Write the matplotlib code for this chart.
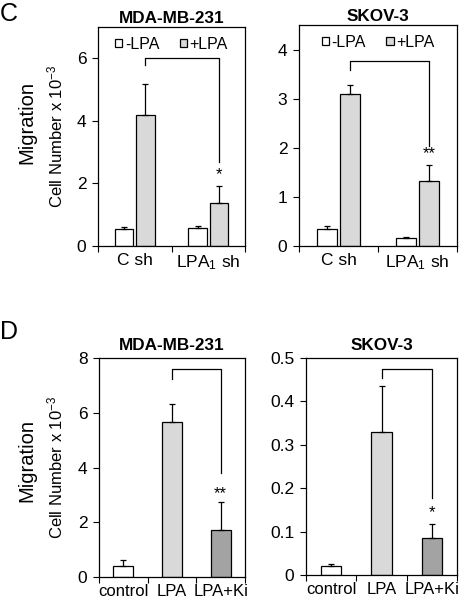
import matplotlib
matplotlib.use("Agg")
from matplotlib import pyplot as plt
from matplotlib.patches import Patch

plt.rcParams['font.family'] = ['Liberation Sans', 'DejaVu Sans']
plt.rcParams['mathtext.fontset'] = 'custom'
plt.rcParams['mathtext.rm'] = 'Liberation Sans'
plt.rcParams['mathtext.it'] = 'Liberation Sans:italic'

# panel C data
c_groups = ["C sh", "LPA$_\\mathregular{1}$ sh"]
c_mda_minus = [0.55, 0.57]
c_mda_minus_err = [0.05, 0.07]
c_mda_plus = [4.2, 1.38]
c_mda_plus_err = [0.97, 0.55]
c_skov_minus = [0.34, 0.156]
c_skov_minus_err = [0.07, 0.025]
c_skov_plus = [3.095, 1.33]
c_skov_plus_err = [0.175, 0.32]

# panel D data
d_groups = ["control", "LPA", "LPA+Ki"]
d_mda = [0.40, 5.65, 1.71]
d_mda_err = [0.21, 0.67, 1.04]
d_skov = [0.0215, 0.330, 0.086]
d_skov_err = [0.0035, 0.106, 0.0315]

# significance brackets: (top, left arm end, right arm end, star y, star text)
c_mda_sig = (6.0, 5.8, 2.7, 2.28, "*")
c_skov_sig = (3.76, 3.59, 2.03, 1.88, "**")
d_mda_sig = (7.6, 7.24, 3.79, 3.05, "**")
d_skov_sig = (0.475, 0.454, 0.177, 0.143, "*")

white = "#ffffff"
light = "#d9d9d9"
dark = "#a3a3a3"

TICK_FS = 12.5
W, H = 465, 600
fig = plt.figure(figsize=(W / 100, H / 100), dpi=100)


def make_axes(x0, y0, x1, y1):
    return fig.add_axes([x0 / W, 1 - y1 / H, (x1 - x0) / W, (y1 - y0) / H])


def style(ax, n, labels, ymax, yticks, yfmt, xfs=TICK_FS):
    ax.set_xlim(0, n)
    ax.set_ylim(0, ymax)
    ax.set_xticks(range(n + 1))
    ax.set_xticklabels([])
    ax.set_xticks([i + 0.5 for i in range(n)], minor=True)
    ax.set_xticklabels(labels, minor=True, fontsize=xfs)
    ax.tick_params(axis='x', which='minor', length=0, pad=5)
    ax.tick_params(axis='x', which='major', direction='out', length=4, width=0.8)
    ax.set_yticks(yticks)
    ax.set_yticklabels([yfmt(v) for v in yticks], fontsize=TICK_FS)
    ax.tick_params(axis='y', direction='out', length=4.3, width=0.8, pad=4)
    for s in ax.spines.values():
        s.set_linewidth(0.9)


def bracket(ax, xa, xb, sig):
    top, left_end, right_end, star_y, star = sig
    ax.plot([xa, xa, xb, xb], [left_end, top, top, right_end], color='black', lw=0.9)
    ax.text(xb, star_y, star, ha='center', va='center', fontsize=12)


def grouped(ax, vals_m, err_m, vals_p, err_p):
    xs = [i + 0.5 for i in range(len(vals_m))]
    xm = [x - 0.145 for x in xs]
    xp = [x + 0.145 for x in xs]
    ekw = dict(ecolor='black', elinewidth=0.9, capsize=2.5, capthick=0.9)
    ax.bar(xm, vals_m, 0.25, color=white, edgecolor='black', linewidth=0.9,
           yerr=[[0] * len(vals_m), err_m], error_kw=ekw)
    ax.bar(xp, vals_p, 0.25, color=light, edgecolor='black', linewidth=0.9,
           yerr=[[0] * len(vals_p), err_p], error_kw=ekw)
    handles = [Patch(facecolor=white, edgecolor='black', linewidth=0.9),
               Patch(facecolor=light, edgecolor='black', linewidth=0.9)]
    ax.legend(handles, ["-LPA", "+LPA"], loc='upper center', ncol=2, frameon=False,
              fontsize=11.5, handlelength=0.45, handleheight=0.45, handletextpad=0.15,
              columnspacing=1.3, borderaxespad=0.2, bbox_to_anchor=(0.5, 1.0))
    return xp


def single(ax, vals, errs):
    xs = [i + 0.5 for i in range(len(vals))]
    ekw = dict(ecolor='black', elinewidth=0.9, capsize=2.5, capthick=0.9)
    ax.bar(xs, vals, 0.41, color=[white, light, dark], edgecolor='black', linewidth=0.9,
           yerr=[[0] * len(vals), errs], error_kw=ekw)
    return xs


ylab = "Cell Number x 10$^\\mathregular{-3}$"

# C, MDA-MB-231
ax1 = make_axes(98, 27, 245, 246)
xp = grouped(ax1, c_mda_minus, c_mda_minus_err, c_mda_plus, c_mda_plus_err)
style(ax1, 2, c_groups, 7, [0, 2, 4, 6], lambda v: "%d" % v)
bracket(ax1, xp[0], xp[1], c_mda_sig)
ax1.set_title("MDA-MB-231", fontsize=12.3, fontweight='bold', pad=3)
ax1.set_ylabel(ylab, fontsize=12)
ax1.yaxis.set_label_coords(-0.225, 0.5)

# C, SKOV-3
ax2 = make_axes(299, 25, 457, 246)
xp = grouped(ax2, c_skov_minus, c_skov_minus_err, c_skov_plus, c_skov_plus_err)
style(ax2, 2, c_groups, 4.5, [0, 1, 2, 3, 4], lambda v: "%d" % v)
bracket(ax2, xp[0], xp[1], c_skov_sig)
ax2.set_title("SKOV-3", fontsize=12.3, fontweight='bold', pad=3)

# D, MDA-MB-231
ax3 = make_axes(99, 358, 245, 577)
xs = single(ax3, d_mda, d_mda_err)
style(ax3, 3, d_groups, 8, [0, 2, 4, 6, 8], lambda v: "%d" % v, xfs=12)
bracket(ax3, xs[1], xs[2], d_mda_sig)
ax3.set_title("MDA-MB-231", fontsize=12.3, fontweight='bold', pad=6)
ax3.set_ylabel(ylab, fontsize=12)
ax3.yaxis.set_label_coords(-0.233, 0.5)

# D, SKOV-3
ax4 = make_axes(306, 358, 457, 575)
xs = single(ax4, d_skov, d_skov_err)
style(ax4, 3, d_groups, 0.5, [0, 0.1, 0.2, 0.3, 0.4, 0.5],
      lambda v: "0" if v == 0 else "%.1f" % v, xfs=12)
bracket(ax4, xs[1], xs[2], d_skov_sig)
ax4.set_title("SKOV-3", fontsize=12.3, fontweight='bold', pad=6)

fig.text(27 / W, 1 - 122 / H, "Migration", rotation=90, fontsize=14.5, ha='center', va='center')
fig.text(27 / W, 1 - 461 / H, "Migration", rotation=90, fontsize=14.5, ha='center', va='center')
fig.text(0, 1 - 14 / H, "C", fontsize=18, ha='left', va='center')
fig.text(0, 1 - 332 / H, "D", fontsize=18, ha='left', va='center')

plt.savefig("out.png", dpi=100)
